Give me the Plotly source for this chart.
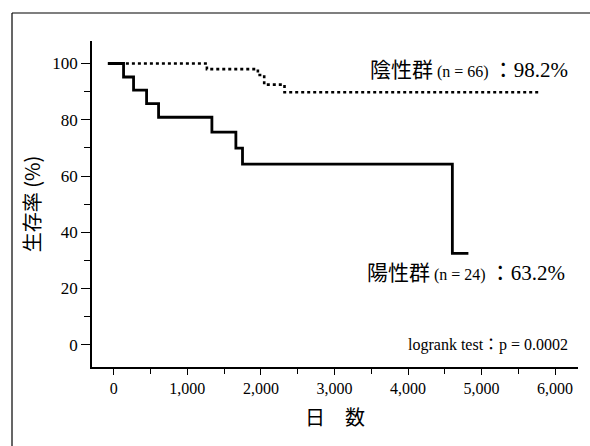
import plotly.graph_objects as go

# Kaplan-Meier curves
neg_days = [-80, 1266, 1959, 2045, 2321, 5785]
neg_surv = [100, 98.0, 95.9, 92.5, 89.8, 89.8]

pos_days = [-80, 133, 269, 446, 609, 1334, 1660, 1750, 4603, 4821]
pos_surv = [100, 95.2, 90.5, 85.7, 80.9, 75.6, 69.9, 64.2, 32.5, 32.5]

x_ticks = [0, 1000, 2000, 3000, 4000, 5000, 6000]
y_ticks = [0, 20, 40, 60, 80, 100]

SERIF = "Liberation Serif, Noto Sans CJK JP, serif"

fig = go.Figure()
fig.add_trace(go.Scatter(x=neg_days, y=neg_surv, mode="lines", line_shape="hv",
                         line=dict(color="black", width=2.6, dash="dot"),
                         showlegend=False, hoverinfo="skip"))
fig.add_trace(go.Scatter(x=pos_days, y=pos_surv, mode="lines", line_shape="hv",
                         line=dict(color="black", width=2.8),
                         showlegend=False, hoverinfo="skip"))

fig.update_layout(
    width=590, height=446,
    margin=dict(l=92, r=12, t=41, b=79),
    paper_bgcolor="white", plot_bgcolor="white",
    font=dict(family=SERIF, color="black", size=16),
    xaxis=dict(range=[-296, 6311], tickvals=x_ticks, tickformat=",d",
               showgrid=False, zeroline=False, showline=True, linecolor="black",
               linewidth=1.5, ticks="outside", ticklen=6, tickwidth=1.2,
               tickcolor="black", tickfont=dict(size=16, family=SERIF),
               minor=dict(dtick=500, ticks="outside", ticklen=5, tickcolor="black", tickwidth=1),
               title=dict(text="日　数", font=dict(size=20, family="Noto Sans CJK JP"), standoff=15)),
    yaxis=dict(range=[-7.9, 108], tickvals=y_ticks,
               showgrid=False, zeroline=False, showline=True, linecolor="black",
               linewidth=1.5, ticks="outside", ticklen=9, tickwidth=1.2,
               tickcolor="black", tickfont=dict(size=17, family=SERIF),
               minor=dict(dtick=10, ticks="outside", ticklen=6, tickcolor="black", tickwidth=1),
               title=dict(text="生存率 (%)", font=dict(size=20, family="Noto Sans CJK JP"), standoff=6)),
)

fig.add_annotation(x=6202, y=97.6, xref="x", yref="y", xanchor="right", yanchor="middle",
                   showarrow=False, font=dict(size=21, family=SERIF),
                   text='陰性群<span style="font-size:16px"> (n = 66) </span>：98.2%')
fig.add_annotation(x=6161, y=25.6, xref="x", yref="y", xanchor="right", yanchor="middle",
                   showarrow=False, font=dict(size=21, family=SERIF),
                   text='陽性群<span style="font-size:16px"> (n = 24) </span>：63.2%')
fig.add_annotation(x=6202, y=0, xref="x", yref="y", xanchor="right", yanchor="middle",
                   showarrow=False, font=dict(size=16, family=SERIF),
                   text='logrank test：p = 0.0002')

# frame around the figure (left and top edges visible)
fig.add_shape(type="line", xref="paper", yref="paper", x0=-0.1646, x1=-0.1646,
              y0=1.0859, y1=-0.25, line=dict(color="black", width=1.2))
fig.add_shape(type="line", xref="paper", yref="paper", x0=-0.1646, x1=1.03,
              y0=1.0859, y1=1.0859, line=dict(color="black", width=1.2))

fig.write_html("out.html")
